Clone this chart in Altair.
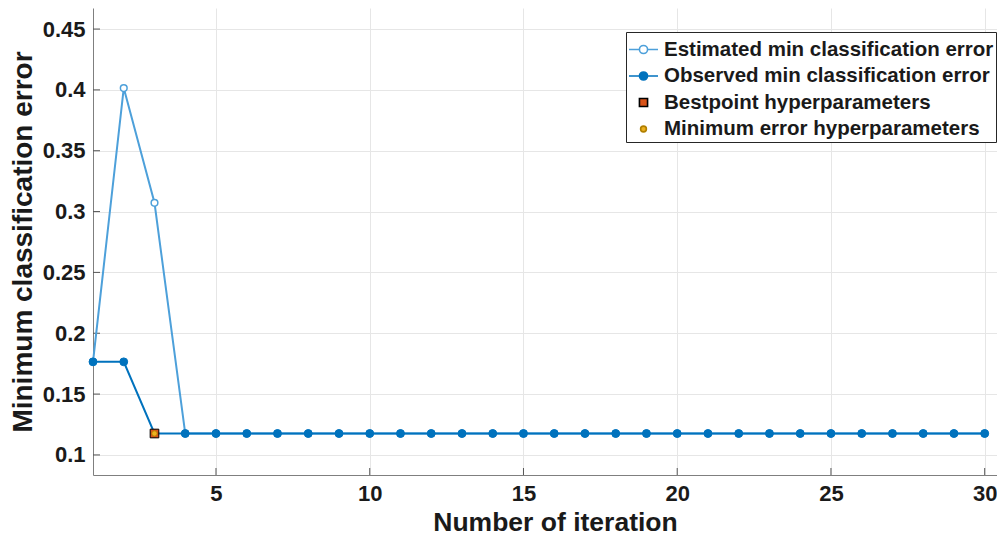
import altair as alt
import pandas as pd

iterations = list(range(1, 31))
estimated = [0.1765, 0.4015, 0.3072, 0.1176, 0.1176, 0.1176, 0.1176, 0.1176, 0.1176, 0.1176,
             0.1176, 0.1176, 0.1176, 0.1176, 0.1176, 0.1176, 0.1176, 0.1176, 0.1176, 0.1176,
             0.1176, 0.1176, 0.1176, 0.1176, 0.1176, 0.1176, 0.1176, 0.1176, 0.1176, 0.1176]
observed = [0.1765, 0.1765, 0.1176, 0.1176, 0.1176, 0.1176, 0.1176, 0.1176, 0.1176, 0.1176,
            0.1176, 0.1176, 0.1176, 0.1176, 0.1176, 0.1176, 0.1176, 0.1176, 0.1176, 0.1176,
            0.1176, 0.1176, 0.1176, 0.1176, 0.1176, 0.1176, 0.1176, 0.1176, 0.1176, 0.1176]
best_iter = [3]
best_val = [0.1176]
min_iter = [3]
min_val = [0.1176]

series_names = ["Estimated min classification error", "Observed min classification error",
                "Bestpoint hyperparameters", "Minimum error hyperparameters"]
EST_C = "#4DA0DA"
OBS_C = "#0072BD"
BEST_C = "#D95319"
MIN_C = "#EDB120"
fill_colors = ["#ffffff", OBS_C, BEST_C, MIN_C]
stroke_colors = [EST_C, OBS_C, "#000000", "#B07F00"]

x_ticks = [5, 10, 15, 20, 25, 30]
y_ticks = [0.1, 0.15, 0.2, 0.25, 0.3, 0.35, 0.4, 0.45]

rows = []
for i, v in zip(iterations, estimated):
    rows.append({"iter": i, "val": v, "series": series_names[0]})
for i, v in zip(iterations, observed):
    rows.append({"iter": i, "val": v, "series": series_names[1]})
for i, v in zip(best_iter, best_val):
    rows.append({"iter": i, "val": v, "series": series_names[2]})
for i, v in zip(min_iter, min_val):
    rows.append({"iter": i, "val": v, "series": series_names[3]})
df = pd.DataFrame(rows)

FONT = "Liberation Sans"
TXT = "#1a1a1a"
W, H = 904, 467

# legend glyphs (all drawn in the same unit box so that every legend row has the same height)
line_path = "M-1,0H-0.28M0.28,0H1M-0.28,0A0.28,0.28 0 1,0 0.28,0A0.28,0.28 0 1,0 -0.28,0"
square_path = "M-0.28,-0.28H0.28V0.28H-0.28Z"
small_circle = "M-0.2,0A0.2,0.2 0 1,0 0.2,0A0.2,0.2 0 1,0 -0.2,0"
shapes = [line_path, line_path, square_path, small_circle]

legend = alt.Legend(
    title=None, orient="none", legendX=533, legendY=24,
    labelFont=FONT, labelFontSize=20.5, labelFontWeight="bold", labelColor=TXT,
    labelLimit=500, symbolStrokeWidth=1.6, symbolSize=841,
    symbolOffset=0, labelOffset=5, rowPadding=0.5, padding=2,
    strokeColor="#262626", fillColor="#ffffff", cornerRadius=0,
)

xs = alt.Scale(domain=[1, 30.4], nice=False, zero=False)
ys = alt.Scale(domain=[0.0835, 0.4673], nice=False, zero=False)

x_enc = alt.X("iter:Q", scale=xs, axis=alt.Axis(
    values=x_ticks, title="Number of iteration", ticks=False, labelPadding=8,
    titlePadding=5, titleFontSize=26.5, titleX=462, titleAlign="center", grid=True))
y_enc = alt.Y("val:Q", scale=ys, axis=alt.Axis(
    values=y_ticks, format="~g", title="Minimum classification error", ticks=False,
    labelPadding=8, titlePadding=5, titleFontSize=28, grid=True))

base = alt.Chart(df)

def sel(name):
    return alt.datum.series == name

est_line = base.transform_filter(sel(series_names[0])).mark_line(
    strokeWidth=2, color=EST_C).encode(x=x_enc, y=y_enc)
est_pts = base.transform_filter(sel(series_names[0])).mark_point(
    shape="circle", size=45, filled=False, fill="#ffffff", stroke=EST_C, strokeWidth=1.5, opacity=1
).encode(x=x_enc, y=y_enc)
obs_line = base.transform_filter(sel(series_names[1])).mark_line(
    strokeWidth=2, color=OBS_C).encode(x=x_enc, y=y_enc)
obs_pts = base.transform_filter(sel(series_names[1])).mark_point(
    shape="circle", size=62, filled=True, fill=OBS_C, stroke=OBS_C, strokeWidth=1, opacity=1
).encode(x=x_enc, y=y_enc)
best_pts = base.transform_filter(sel(series_names[2])).mark_point(
    shape="square", size=75, filled=True, fill=BEST_C, stroke="#000000", strokeWidth=1, opacity=1
).encode(x=x_enc, y=y_enc)
min_pts = base.transform_filter(sel(series_names[3])).mark_point(
    shape="circle", size=28, filled=True, fill=MIN_C, stroke="#B07F00", strokeWidth=0.8, opacity=1
).encode(x=x_enc, y=y_enc)

# legend carrier layer: draws no marks (empty after filter), only builds the legend
legend_layer = base.transform_filter("false").mark_point(opacity=1, filled=False).encode(
    x=x_enc, y=y_enc,
    fill=alt.Fill("series:N", scale=alt.Scale(domain=series_names, range=fill_colors), legend=legend),
    stroke=alt.Stroke("series:N", scale=alt.Scale(domain=series_names, range=stroke_colors), legend=legend),
    shape=alt.Shape("series:N", scale=alt.Scale(domain=series_names, range=shapes), legend=legend),
)

ytick_df = pd.DataFrame({"v": y_ticks})
xtick_df = pd.DataFrame({"v": x_ticks})
ytick_marks = alt.Chart(ytick_df).mark_rule(color="#555555", strokeWidth=1).encode(
    y=alt.Y("v:Q", scale=ys), x=alt.value(0), x2=alt.value(7))
xtick_marks = alt.Chart(xtick_df).mark_rule(color="#555555", strokeWidth=1).encode(
    x=alt.X("v:Q", scale=xs), y=alt.value(H), y2=alt.value(H - 7))

chart = alt.layer(ytick_marks, xtick_marks, est_line, est_pts, obs_line, obs_pts, best_pts, min_pts,
                  legend_layer).properties(
    width=W, height=H,
    autosize=alt.AutoSizeParams(type="none"),
    padding={"left": 85, "top": 0, "right": 0, "bottom": 64},
).configure_view(stroke=None).configure_axis(
    labelFont=FONT, labelFontSize=22, labelFontWeight="bold", labelColor=TXT,
    titleFont=FONT, titleFontWeight="bold", titleColor=TXT,
    domainColor="#7f7f7f", domainWidth=1, gridColor="#e6e6e6", gridWidth=1,
)

chart.save("out.html", embed_options={"renderer": "svg", "actions": False})
